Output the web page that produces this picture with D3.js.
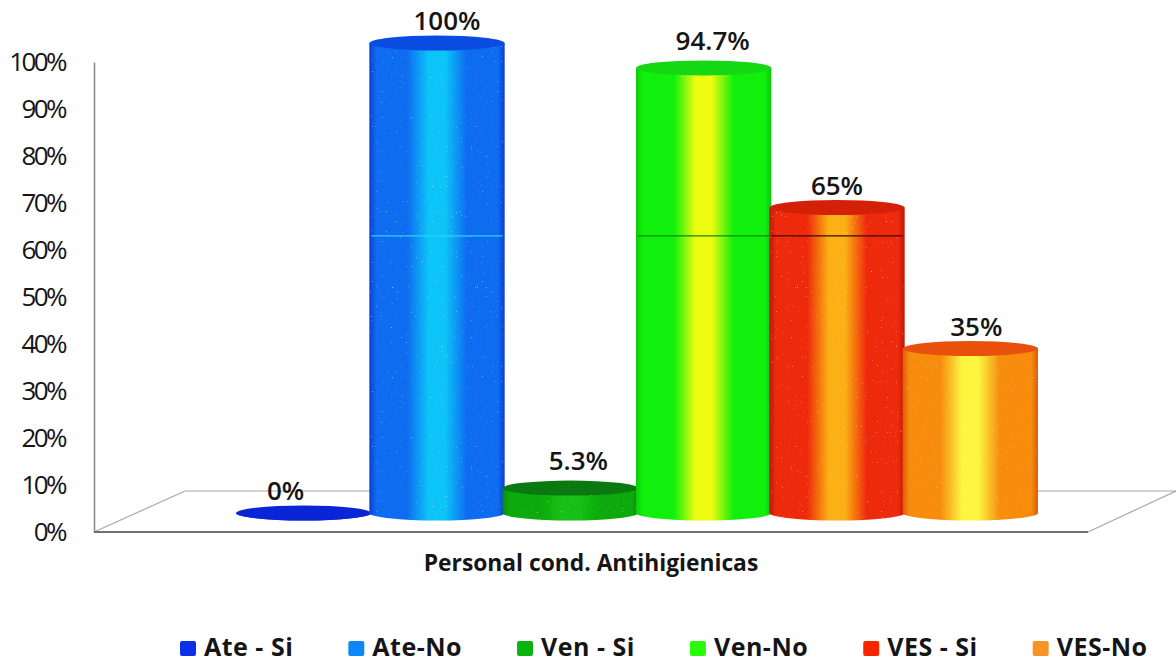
<!DOCTYPE html>
<html lang="en">
<head>
    <meta charset="UTF-8">
    <script src="https://cdnjs.cloudflare.com/ajax/libs/d3/7.8.5/d3.min.js"></script>
    <style>
        html, body { margin: 0; padding: 0; background: #fff; }
        svg { display: block; }
        text { font-family: "Open Sans", "Noto Sans", sans-serif; fill: #151515; }
    </style>
</head>
<body>
<svg id="viz" width="1176" height="663"></svg>
<script>
    const categories = ['Ate - Si', 'Ate-No', 'Ven - Si', 'Ven-No', 'VES - Si', 'VES-No'];
    const values = [0, 100, 5.3, 94.7, 65, 35];
    const valueLabels = ['0%', '100%', '5.3%', '94.7%', '65%', '35%'];
    const tickValues = [0, 10, 20, 30, 40, 50, 60, 70, 80, 90, 100];
    const legendColors = ['#0b30e6', '#0f86f5', '#0bb30f', '#2cfa0c', '#f52500', '#f79425'];
    const topColors = ['#0a25d8', '#0a4be2', '#0a7a10', '#14d814', '#d42006', '#e8500c'];
    // edge, body, glow, edge: laid out on the stops below
    const bodyColors = [
        ['#0a25d8', '#0a30e0', '#0a30e0', '#0a25d8'],
        ['#0a3cd0', '#0f6cf0', '#0cc4f8', '#0a3cd0'],
        ['#0a8a0e', '#0aaa10', '#18c012', '#0a8a0e'],
        ['#0cc80c', '#10f00c', '#eefc10', '#0cc80c'],
        ['#c01606', '#ee2a08', '#fbb014', '#c01606'],
        ['#e05a0c', '#f78c10', '#fdf640', '#e05a0c']
    ];
    // value where the pictured cylinders carry a thin band line, per category (null = none)
    const bandValues = [null, 63, null, 63, 63, null];
    const bandColors = ['none', '#2ad0f5', 'none', '#0e8a10', '#3a0a02', 'none'];

    const svg = d3.select('#viz');

    // value scale for the axis, and the same one shifted up for the cylinder centres
    const yAxisScale = d3.scaleLinear().domain([0, 100]).range([532, 62]);
    const yScale = d3.scaleLinear().domain([0, 100]).range([513, 43]);
    const xScale = d3.scaleBand().domain(categories).range([237, 1037]);
    const rx = xScale.bandwidth() / 2 + 1;
    const ry = 7.5;
    const centre = d => xScale(d) + xScale.bandwidth() / 2;

    const defs = svg.append('defs');
    categories.forEach((c, i) => {
        const grad = defs.append('linearGradient').attr('id', 'body' + i);
        const c4 = bodyColors[i];
        [[0, c4[0]], [0.05, c4[1]], [0.28, c4[1]], [0.44, c4[2]], [0.56, c4[2]], [0.72, c4[1]], [0.95, c4[1]], [1, c4[3]]]
            .forEach(s => grad.append('stop').attr('offset', s[0]).attr('stop-color', s[1]));
    });

    // the scanned print has light specks on the cylinders
    const specks = defs.append('filter').attr('id', 'specks');
    specks.append('feTurbulence').attr('type', 'fractalNoise').attr('baseFrequency', 0.8)
        .attr('numOctaves', 1).attr('seed', 4).attr('result', 'noise');
    specks.append('feColorMatrix').attr('in', 'noise').attr('type', 'matrix')
        .attr('values', '0 0 0 0 1  0 0 0 0 1  0 0 0 0 0.7  0 0 0 3 -2.15').attr('result', 'dots');
    specks.append('feComposite').attr('in', 'dots').attr('in2', 'SourceGraphic').attr('operator', 'in').attr('result', 'cut');
    const merge = specks.append('feMerge');
    merge.append('feMergeNode').attr('in', 'SourceGraphic');
    merge.append('feMergeNode').attr('in', 'cut');

    // floor
    const floor = d3.line();
    svg.append('path')
        .attr('d', floor([[94, 532], [185, 491], [1176, 491]]))
        .attr('fill', 'none').attr('stroke', '#a8a8a8').attr('stroke-width', 1.2);
    svg.append('path')
        .attr('d', floor([[1088, 532], [1176, 491]]))
        .attr('fill', 'none').attr('stroke', '#a8a8a8').attr('stroke-width', 1.2);

    // axis, no tick marks
    const yAxis = d3.axisLeft(yAxisScale).tickValues(tickValues).tickFormat(d => d + '%').tickSize(0).tickPadding(29);
    const axisG = svg.append('g').attr('transform', 'translate(94,0)').call(yAxis);
    axisG.select('.domain').attr('stroke', '#8c8c8c').attr('stroke-width', 1.6);
    axisG.selectAll('text')
        .style('font-size', '26px')
        .style('letter-spacing', '-2.6px')
        .attr('fill', '#1c1c1c');
    svg.append('line')
        .attr('x1', 94).attr('x2', 1088).attr('y1', 532).attr('y2', 532)
        .attr('stroke', '#6e6e6e').attr('stroke-width', 2);

    // cylinders left to right, each one overlaps the one before
    const cyl = svg.selectAll('g.cyl').data(categories).enter().append('g').attr('class', 'cyl');
    cyl.append('path')
        .attr('fill', (d, i) => 'url(#body' + i + ')')
        .attr('filter', (d, i) => (i === 3 ? null : 'url(#specks)')) // the bright green one is clean
        .attr('d', (d, i) => {
            const x0 = centre(d) - rx, x1 = centre(d) + rx;
            return `M${x0},${yScale(values[i])}V${yScale(0)}A${rx},${ry} 0 0 0 ${x1},${yScale(0)}V${yScale(values[i])}Z`;
        });
    cyl.filter((d, i) => bandValues[i] !== null).append('line')
        .attr('x1', d => centre(d) - rx + 2)
        .attr('x2', d => centre(d) + rx - 2)
        .attr('y1', d => yAxisScale(bandValues[categories.indexOf(d)]))
        .attr('y2', d => yAxisScale(bandValues[categories.indexOf(d)]))
        .attr('stroke', d => bandColors[categories.indexOf(d)])
        .attr('stroke-width', 1.3);
    cyl.append('ellipse')
        .attr('cx', centre)
        .attr('cy', (d, i) => yScale(values[i]))
        .attr('rx', rx)
        .attr('ry', ry)
        .attr('fill', (d, i) => topColors[i]);

    // value labels sit off centre in the picture
    const labelDx = [-18, 10, 8, 9, 0, 6];
    const labelDy = [-13, -13, -18, -18, -13, -13];
    svg.selectAll('text.val').data(categories).enter().append('text')
        .attr('class', 'val')
        .attr('x', (d, i) => centre(d) + labelDx[i])
        .attr('y', (d, i) => yScale(values[i]) + labelDy[i])
        .attr('text-anchor', 'middle')
        .style('font-size', '26px')
        .style('font-weight', 600)
        .text((d, i) => valueLabels[i]);

    svg.append('text')
        .attr('x', 591).attr('y', 571)
        .attr('text-anchor', 'middle')
        .style('font-size', '22.8px')
        .style('font-weight', 700)
        .text('Personal cond. Antihigienicas');

    // legend, each entry starts a fixed gap after the text before it
    let legendPos = 180;
    categories.forEach((c, i) => {
        const leg = svg.append('g').attr('class', 'leg').attr('transform', 'translate(' + legendPos + ',641)');
        leg.append('rect').attr('width', 16).attr('height', 15).attr('rx', 2).attr('fill', legendColors[i]);
        const t = leg.append('text').attr('x', 24).attr('y', 14.5)
            .style('font-size', '25px').style('font-weight', 700).style('letter-spacing', '0.5px').text(c);
        legendPos += 24 + t.node().getComputedTextLength() + 55;
    });
</script>
</body>
</html>
